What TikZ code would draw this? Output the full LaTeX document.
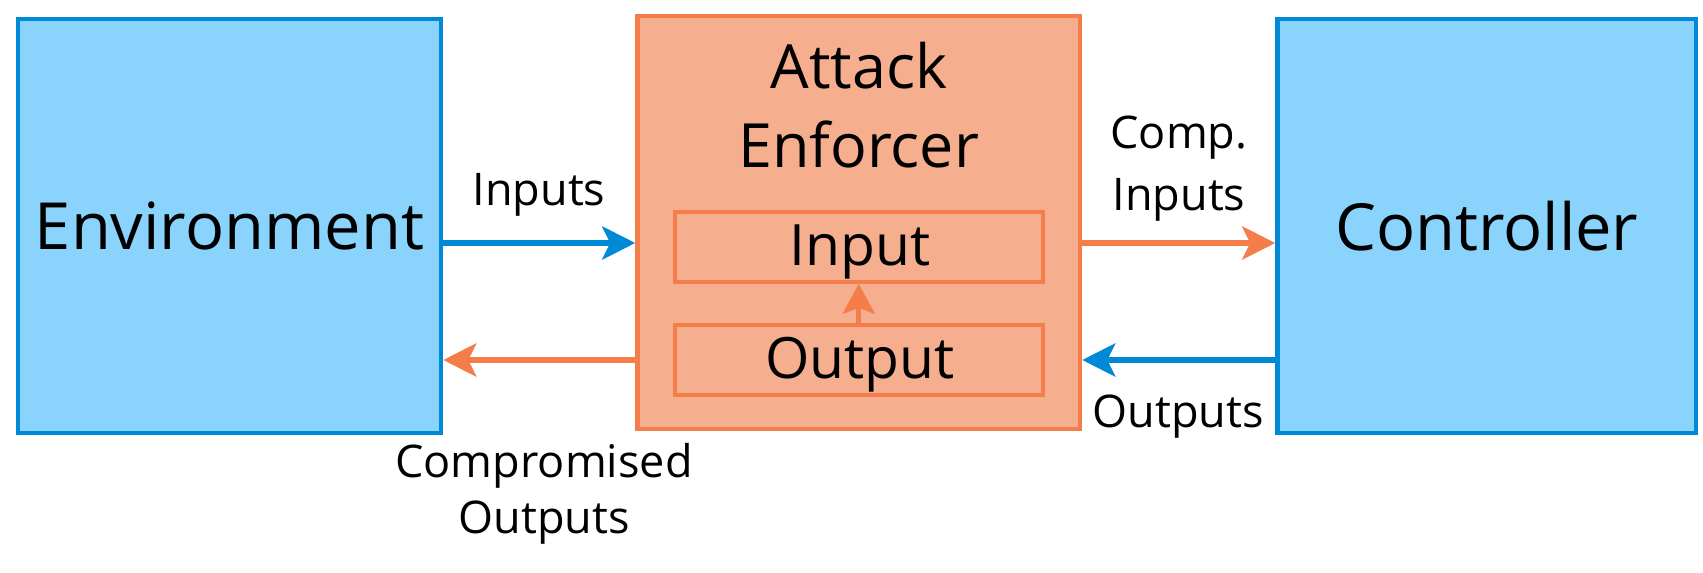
\documentclass[tikz,border=0pt]{standalone}
\usepackage{fontspec}
\setmainfont{Open Sans}
\usetikzlibrary{arrows.meta}
\definecolor{bfill}{RGB}{138,211,253}
\definecolor{bline}{RGB}{0,137,214}
\definecolor{ofill}{RGB}{245,175,143}
\definecolor{oline}{RGB}{244,125,74}
\begin{document}
\begin{tikzpicture}[x=1pt,y=-1pt,
  bluebox/.style={draw=bline,fill=bfill,line width=4.5pt,inner sep=0pt,
    minimum height=414pt,font=\fontsize{65}{78}\selectfont},
  orangebox/.style={draw=oline,fill=ofill,line width=4.5pt,inner sep=0pt},
  subbox/.style={draw=oline,fill=ofill,line width=4pt,inner sep=0pt,
    minimum width=367.5pt,minimum height=70pt,text height=0pt,text depth=0pt},
  subtxt/.style={font=\fontsize{57}{68}\selectfont,inner sep=0pt,anchor=base},
  lbl/.style={font=\fontsize{45}{56}\selectfont,inner sep=0pt,align=center},
  barrow/.style={draw=bline,line width=6pt,-{Stealth[length=33pt,width=33pt,inset=8pt]}},
  oarrow/.style={draw=oline,line width=6pt,-{Stealth[length=33pt,width=33pt,inset=8pt]}},
  iarrow/.style={draw=oline,line width=5pt,-{Stealth[length=30pt,width=32pt,inset=6pt]}}
]
\useasboundingbox (0,0) rectangle (1703,573);
\fill[white] (0,0) rectangle (1703,573);
\node[bluebox,minimum width=423pt] (env) at (229.5,226) {Environment};
\node[bluebox,minimum width=418.5pt] (ctrl) at (1486.75,226) {Controller};
\node[orangebox,minimum width=442.5pt,minimum height=413pt] (enf) at (858.75,222.5) {};
\node[font=\fontsize{61}{79}\selectfont,inner sep=0pt,align=center,anchor=base] (title) at (858.75,167) {Attack\\Enforcer};
\node[subbox] (inbox) at (858.75,246.75) {};
\node[subbox] (outbox) at (858.75,360) {};
\node[subtxt] (intxt) at (860,265) {Input};
\node[subtxt] (outtxt) at (860,378) {Output};
\coordinate (inrow) at (0,243);
\coordinate (outrow) at (0,360);
\draw[barrow] (env.east |- inrow) -- (enf.west |- inrow);
\draw[oarrow] (enf.west |- outrow) -- (env.east |- outrow);
\draw[oarrow] (enf.east |- inrow) -- (ctrl.west |- inrow);
\draw[barrow] (ctrl.west |- outrow) -- (enf.east |- outrow);
\draw[iarrow] (outbox.north) -- (inbox.south);
\node[lbl,anchor=base] (l1) at (539,205) {Inputs};
\node[lbl,anchor=base,font=\fontsize{45}{62}\selectfont] (l2) at (1179,210) {Comp.\\Inputs};
\node[lbl,anchor=base] (l3) at (1178,427) {Outputs};
\node[lbl,anchor=base] (l4) at (544,533) {Compromised\\Outputs};
\end{tikzpicture}
\end{document}
